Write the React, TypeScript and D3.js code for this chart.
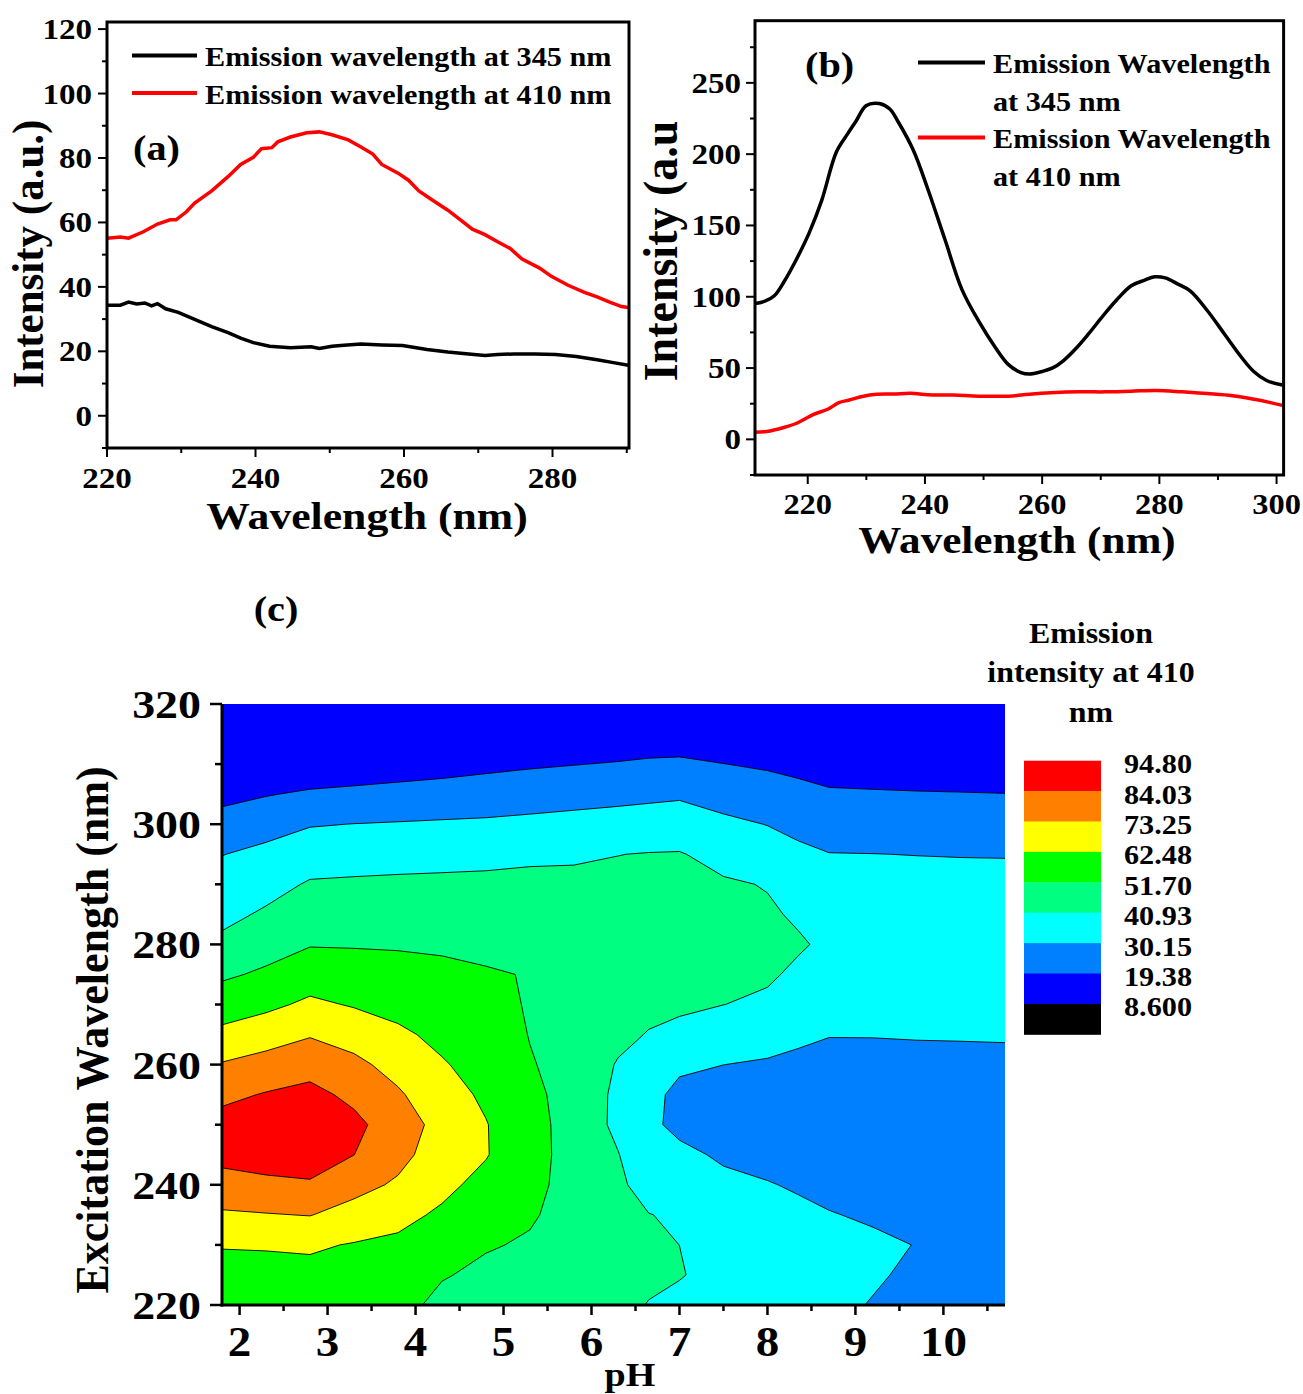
import React from 'react';
import * as d3 from 'd3';

const FONT = "'Liberation Serif','Times New Roman',Times,serif";
const SX = 1.12;

// ---------- Panel (a) data: [wavelength nm, intensity a.u.] ----------
const aEm345: [number, number][] = [
  [220, 34.3], [221.8, 34.3], [222.9, 35.3], [224, 34.7], [225.1, 35], [226, 34.1], [226.8, 34.8],
  [227.9, 33.2], [229.6, 32.1], [231.8, 29.9], [234.1, 27.7], [236.3, 25.8], [238, 24.1], [239.7, 22.7],
  [241.9, 21.6], [244.7, 21.1], [247.5, 21.4], [248.6, 20.9], [250.3, 21.6], [251.9, 21.9], [254.2, 22.3],
  [257, 22], [259.8, 21.8], [263.1, 20.6], [265.9, 19.8], [268.7, 19.2], [270.9, 18.7], [272.6, 19],
  [274.8, 19.2], [277.6, 19.2], [280.4, 19], [283.2, 18.4], [286, 17.4], [288.2, 16.5], [290.2, 15.7],
];
const aEm410: [number, number][] = [
  [220, 55.1], [221.8, 55.5], [222.9, 55.1], [224.9, 57.1], [226.8, 59.5], [228.5, 60.8], [229.3, 60.8],
  [230.7, 63.3], [231.8, 66], [234.1, 69.8], [236.3, 74.2], [238, 78], [239.7, 80.2], [240.8, 82.9],
  [242.2, 83.2], [243, 85], [244.7, 86.5], [246.9, 87.8], [248.6, 88.1], [250.3, 87.2], [252.5, 85.6],
  [254.2, 83.4], [255.8, 81.2], [257, 78], [259.2, 75.3], [260.6, 73.1], [262, 69.8], [263.7, 67.1],
  [265.9, 63.8], [267.6, 60.8], [269.2, 57.9], [270.9, 56.2], [272.6, 54], [274.3, 51.9], [275.9, 48.6],
  [278.2, 45.9], [279.9, 43.2], [282.1, 40.5], [284.3, 38.3], [286, 36.9], [287.7, 35.3], [289.3, 33.9],
  [290.2, 33.6],
];
const aXMajor = [220, 240, 260, 280];
const aXMinor = [230, 250, 270, 290];
const aYMajor = [0, 20, 40, 60, 80, 100, 120];
const aYMinor = [-10, 10, 30, 50, 70, 90, 110];

// ---------- Panel (b) data ----------
const bEm345: [number, number][] = [
  [211, 95.2], [212.7, 96.9], [214.3, 100.7], [215.9, 110.2], [218.1, 126.5], [220.3, 145.3], [222.4, 167.8],
  [224.9, 201.7], [226.8, 214.2], [228.2, 222.9], [230, 234.2], [232.2, 235.5], [234, 231.7], [235.4, 222.9],
  [238, 202.9], [240.5, 175.4], [243.4, 140.3], [246.3, 105.2], [249.2, 82.7], [252.1, 63.9], [254.2, 52.6],
  [256.4, 46.8], [257.8, 45.8], [260, 47.6], [261.8, 50.1], [263.6, 55.1], [265.8, 63.9], [267.9, 73.9],
  [270.1, 85.2], [272.7, 97.7], [275.2, 107.7], [277.4, 111.5], [279.2, 114], [281, 113.2], [283.1, 109],
  [285.3, 104], [288.2, 90.2], [291.1, 73.9], [294, 57.6], [296.1, 47.6], [298.3, 41.3], [301, 38.1],
];
const bEm410: [number, number][] = [
  [211, 5], [213, 5.5], [215.9, 8.3], [218.1, 11.3], [221, 17.5], [223.5, 21.3], [225.3, 25.8], [227.1, 27.6],
  [229.3, 30.1], [231.8, 31.6], [234.7, 31.8], [237.6, 32.3], [240.5, 31.3], [244.8, 31.1], [249.2, 30.3],
  [254.2, 30.3], [257.8, 31.6], [261.5, 32.6], [266.5, 33.3], [270.8, 33.3], [275.2, 33.8], [279.5, 34.3],
  [283.9, 33.3], [288.2, 32.1], [292.5, 30.6], [296.9, 27.6], [301, 23.8],
];
const bXMajor = [220, 240, 260, 280, 300];
const bXMinor = [230, 250, 270, 290];
const bYMajor = [0, 50, 100, 150, 200, 250];
const bYMinor = [-25, 25, 75, 125, 175, 225, 275];

// ---------- Panel (c) data: emission intensity at 410 nm ----------
const phColumns = [1.8, 2.3, 2.8, 3.3, 3.8, 4.3, 4.8, 5.3, 5.8, 6.3, 6.65, 7.0, 7.5, 8.0, 8.35, 8.7, 9.2, 9.7, 10.2, 10.7];
const excitationRows = [320, 315, 310, 305, 300, 295, 290, 285, 280, 275, 270, 265, 260, 255, 250, 245, 240, 235, 230, 225, 220];
const intensityGrid: number[][] = [
  [11, 11.5, 12, 12, 12, 12, 13, 13.5, 14, 11.5, 12, 12, 12, 12.5, 13, 13.5, 13.5, 13.5, 13.5, 13.5],
  [12.5, 13, 11.5, 12.5, 13, 13.5, 14, 15, 16, 12.6, 13.6, 13.6, 13, 13.5, 14.5, 14.5, 14.5, 14.5, 14.5, 14.5],
  [14.5, 15, 12.1, 13.3, 14.4, 15.5, 17.0, 18.2, 19.1, 20.0, 20.8, 21.2, 19.5, 18.1, 16.8, 15.5, 15.1, 14.9, 15, 15],
  [16.6, 18.8, 20.8, 21.7, 22.7, 23.6, 24.5, 25.5, 26.4, 27.3, 28.1, 28.8, 26.0, 24.0, 22.2, 20.5, 20.2, 19.9, 19.7, 19.5],
  [23.2, 26.4, 29.5, 30.3, 30.8, 31.3, 31.7, 32.5, 33.4, 34.3, 34.8, 35.3, 32.3, 29.9, 27.6, 25.5, 25.2, 24.9, 24.7, 24.5],
  [29.9, 32.6, 36.0, 36.6, 37.3, 37.8, 38.4, 39.2, 40.1, 40.8, 41.3, 41.5, 37.9, 34.9, 32.2, 30.4, 30.25, 30.0, 29.8, 29.7],
  [34.1, 37.4, 41.9, 42.4, 42.7, 42.9, 43.0, 43.4, 42.4, 43.0, 43.0, 43.0, 42.0, 40.5, 36.0, 33.5, 33.0, 33.0, 33.0, 33.0],
  [38.2, 42.3, 46.5, 46.7, 46.8, 46.6, 46.3, 46.7, 44.0, 44.5, 44.0, 43.8, 43.0, 42.0, 39.9, 37.0, 35.0, 35.0, 35.0, 35.0],
  [43.2, 47.6, 51.15, 51.0, 50.8, 50.4, 49.6, 50.0, 45.7, 45.2, 44.5, 44.0, 43.0, 42.5, 41.8, 39.5, 36.0, 36.0, 36.0, 36.0],
  [50.1, 53.3, 57.5, 56.3, 55.1, 53.8, 52.5, 51.3, 47.3, 46.0, 44.5, 43.5, 42.5, 42.0, 39.5, 37.0, 35.5, 35.5, 35.5, 35.5],
  [57.2, 60.2, 64.4, 61.7, 59.5, 57.0, 54.6, 51.0, 49.0, 46.5, 43.5, 42.2, 41.0, 39.5, 36.5, 35.0, 34.0, 34.0, 34.0, 34.0],
  [65.0, 68.5, 72.4, 68.9, 64.2, 60.2, 56.7, 51.4, 48.8, 43.5, 40.4, 39.0, 35.5, 34.5, 32.0, 30.5, 30.6, 31.0, 31.2, 31.5],
  [74.0, 77.2, 80.6, 75.8, 69.5, 63.3, 58.8, 52.3, 48.5, 40.2, 37.0, 33.0, 30.2, 29.0, 28.0, 27.0, 26.5, 26.5, 26.5, 26.5],
  [81.6, 84.7, 86.6, 81.9, 74.6, 66.4, 60.9, 54.0, 48.0, 38.8, 35.0, 26.0, 25.0, 24.5, 24.0, 24.5, 24.0, 24.0, 24.0, 24.0],
  [87.8, 89.2, 91.1, 86.3, 79.1, 69.4, 62.9, 55.5, 47.5, 38.8, 34.1, 25.5, 23.5, 23.0, 22.5, 23.5, 23.0, 23.0, 23.0, 23.0],
  [86.9, 88.0, 88.2, 84.1, 76.6, 67.6, 63.0, 56.0, 47.3, 41.3, 34.5, 34.5, 27.5, 25.0, 23.0, 24.0, 23.5, 23.0, 22.5, 22.5],
  [80.3, 82.1, 83.1, 76.9, 71.7, 64.6, 59.9, 55.3, 47.0, 43.0, 36.5, 37.5, 34.5, 31.0, 28.5, 26.5, 25.0, 24.0, 22.5, 22.0],
  [71.8, 72.7, 73.6, 69.1, 64.8, 61.2, 56.3, 53.0, 47.2, 44.0, 41.2, 39.5, 36.0, 34.0, 33.5, 30.8, 28.5, 26.5, 23.0, 22.0],
  [63.0, 63.2, 63.7, 61.9, 60.9, 56.9, 52.7, 50.4, 47.0, 44.5, 43.0, 40.9, 36.5, 35.0, 34.0, 33.0, 32.5, 29.8, 24.0, 22.5],
  [59.3, 59.6, 59.9, 59.4, 58.4, 52.6, 49.1, 48.0, 46.0, 44.5, 43.0, 41.8, 36.0, 35.0, 34.0, 33.5, 31.5, 28.0, 23.5, 22.5],
  [56, 56.5, 57, 57, 56, 48.3, 45.5, 46.0, 45.0, 44.0, 40.5, 37.0, 35.0, 34.5, 33.5, 33.0, 29.5, 26.0, 23.0, 22.5],
];
const contourThresholds = [8.6, 19.38, 30.15, 40.93, 51.70, 62.48, 73.25, 84.03];
const contourColors = ['#0000FF', '#0080FF', '#00FFFF', '#00FF80', '#00FF00', '#FFFF00', '#FF8000', '#FF0000'];
const legendLabels = ['94.80', '84.03', '73.25', '62.48', '51.70', '40.93', '30.15', '19.38', '8.600'];
const legendColors = ['#FF0000', '#FF8000', '#FFFF00', '#00FF00', '#00FF80', '#00FFFF', '#0080FF', '#0000FF', '#000000'];
const cXMajor = [2, 3, 4, 5, 6, 7, 8, 9, 10];
const cXMinor = [2.5, 3.5, 4.5, 5.5, 6.5, 7.5, 8.5, 9.5, 10.5];
const cYMajor = [220, 240, 260, 280, 300, 320];
const cYMinor = [230, 250, 270, 290, 310];

function T({ x, y, size, anchor = 'start', rotate = 0, children, sx = SX }: any) {
  const tr = `translate(${x},${y}) scale(${sx},1)` + (rotate ? ` rotate(${rotate})` : '');
  return (
    <text transform={tr} fontSize={size} textAnchor={anchor} fontFamily={FONT} fontWeight="bold" fill="#000">
      {children}
    </text>
  );
}

function gridToValue(arr: number[], c: number) {
  const f = c - 0.5;
  const n = arr.length;
  if (f <= 0) return arr[0] + f * (arr[1] - arr[0]);
  if (f >= n - 1) return arr[n - 1] + (f - (n - 1)) * (arr[n - 1] - arr[n - 2]);
  const i = Math.floor(f);
  const t = f - i;
  return arr[i] + t * (arr[i + 1] - arr[i]);
}

export default function App() {
  // Panel (a) scales
  const ax = d3.scaleLinear().domain([220, 290.3]).range([107, 629]);
  const ay = d3.scaleLinear().domain([-10, 122.2]).range([448, 22]);
  // Panel (b) scales
  const bx = d3.scaleLinear().domain([211, 301.2]).range([755, 1283.6]);
  const by = d3.scaleLinear().domain([-25, 293.6]).range([475, 20.7]);
  // Panel (c) scales
  const cx = d3.scaleLinear().domain([1.8, 10.7]).range([222, 1005]);
  const cy = d3.scaleLinear().domain([220, 320]).range([1305, 704]);

  const lineA = d3.line<[number, number]>().x((d) => ax(d[0])).y((d) => ay(d[1])).curve(d3.curveLinear);
  const lineB = d3.line<[number, number]>().x((d) => bx(d[0])).y((d) => by(d[1])).curve(d3.curveCatmullRom.alpha(0.5));

  const nx = phColumns.length;
  const ny = excitationRows.length;
  const flat = intensityGrid.flat();
  const contours = d3.contours().size([nx, ny]).thresholds(contourThresholds)(flat);
  const proj = d3.geoTransform({
    point: function (this: any, x: number, y: number) {
      this.stream.point(cx(gridToValue(phColumns, x)), cy(gridToValue(excitationRows, y)));
    },
  });
  const geo = d3.geoPath(proj);

  const frame = (x0: number, y0: number, x1: number, y1: number) => (
    <rect x={x0} y={y0} width={x1 - x0} height={y1 - y0} fill="none" stroke="#000" strokeWidth={3} />
  );

  return (
    <svg width={1303} height={1394} style={{ position: 'absolute', left: 0, top: 0, background: '#fff' }}>
      <defs>
        <clipPath id="clipA"><rect x={107} y={22} width={522} height={426} /></clipPath>
        <clipPath id="clipB"><rect x={755} y={20.7} width={528.6} height={454.3} /></clipPath>
        <clipPath id="clipC"><rect x={222} y={704} width={783} height={601} /></clipPath>
      </defs>
      <rect x={0} y={0} width={1303} height={1394} fill="#fff" />

      {/* ---------------- Panel (a) ---------------- */}
      <g clipPath="url(#clipA)">
        <path d={lineA(aEm345) || ''} fill="none" stroke="#000" strokeWidth={3.5} />
        <path d={lineA(aEm410) || ''} fill="none" stroke="#FF0000" strokeWidth={3.5} />
      </g>
      {frame(107, 22, 629, 448)}
      {aYMajor.map((v) => (
        <g key={'aym' + v}>
          <line x1={107} x2={98} y1={ay(v)} y2={ay(v)} stroke="#000" strokeWidth={2} />
          <T x={92} y={ay(v) + 10} size={29.5} anchor="end">{v}</T>
        </g>
      ))}
      {aYMinor.map((v) => (
        <line key={'ayn' + v} x1={107} x2={102} y1={ay(v)} y2={ay(v)} stroke="#000" strokeWidth={2} />
      ))}
      {aXMajor.map((v) => (
        <g key={'axm' + v}>
          <line x1={ax(v)} x2={ax(v)} y1={448} y2={457} stroke="#000" strokeWidth={2} />
          <T x={ax(v)} y={488} size={29.5} anchor="middle">{v}</T>
        </g>
      ))}
      {aXMinor.map((v) => (
        <line key={'axn' + v} x1={ax(v)} x2={ax(v)} y1={448} y2={453} stroke="#000" strokeWidth={2} />
      ))}
      <T x={367} y={529} size={39} anchor="middle">Wavelength (nm)</T>
      <T x={43} y={254} size={43} anchor="middle" rotate={-90} sx={1.05}>Intensity (a.u.)</T>
      <line x1={132} x2={197} y1={55.4} y2={55.4} stroke="#000" strokeWidth={4} />
      <T x={205} y={66} size={27}>Emission wavelength at 345 nm</T>
      <line x1={132} x2={197} y1={93} y2={93} stroke="#FF0000" strokeWidth={4} />
      <T x={205} y={103.5} size={27}>Emission wavelength at 410 nm</T>
      <T x={133} y={159.6} size={36}>(a)</T>

      {/* ---------------- Panel (b) ---------------- */}
      <g clipPath="url(#clipB)">
        <path d={lineB(bEm345) || ''} fill="none" stroke="#000" strokeWidth={3.5} />
        <path d={lineB(bEm410) || ''} fill="none" stroke="#FF0000" strokeWidth={3.5} />
      </g>
      {frame(755, 20.7, 1283.6, 475)}
      {bYMajor.map((v) => (
        <g key={'bym' + v}>
          <line x1={755} x2={746} y1={by(v)} y2={by(v)} stroke="#000" strokeWidth={2} />
          <T x={741} y={by(v) + 10} size={29.5} anchor="end">{v}</T>
        </g>
      ))}
      {bYMinor.map((v) => (
        <line key={'byn' + v} x1={755} x2={750} y1={by(v)} y2={by(v)} stroke="#000" strokeWidth={2} />
      ))}
      {bXMajor.map((v) => (
        <g key={'bxm' + v}>
          <line x1={bx(v)} x2={bx(v)} y1={475} y2={484} stroke="#000" strokeWidth={2} />
          <T x={bx(v)} y={514} size={29} anchor="middle">{v}</T>
        </g>
      ))}
      {bXMinor.map((v) => (
        <line key={'bxn' + v} x1={bx(v)} x2={bx(v)} y1={475} y2={480} stroke="#000" strokeWidth={2} />
      ))}
      <T x={1017} y={553} size={38.5} anchor="middle">Wavelength (nm)</T>
      <T x={677} y={251} size={46} anchor="middle" rotate={-90} sx={1.05}>Intensity (a.u</T>
      <T x={805} y={76.8} size={36}>(b)</T>
      <line x1={918} x2={985} y1={62.5} y2={62.5} stroke="#000" strokeWidth={4} />
      <T x={993} y={73.2} size={27}>Emission Wavelength</T>
      <T x={993} y={110.7} size={27}>at 345 nm</T>
      <line x1={918} x2={985} y1={137.5} y2={137.5} stroke="#FF0000" strokeWidth={4} />
      <T x={993} y={148.2} size={27}>Emission Wavelength</T>
      <T x={993} y={185.7} size={27}>at 410 nm</T>

      {/* ---------------- Panel (c) ---------------- */}
      <T x={276} y={621} size={36} anchor="middle">(c)</T>
      <g clipPath="url(#clipC)">
        {contours.map((c, i) => (
          <path key={'ct' + i} d={geo(c as any) || ''} fill={contourColors[i]} stroke="#000" strokeWidth={0.9} strokeLinejoin="round" />
        ))}
      </g>
      <line x1={222} x2={222} y1={704} y2={1306.5} stroke="#000" strokeWidth={3} />
      <line x1={220.5} x2={1005} y1={1305} y2={1305} stroke="#000" strokeWidth={3} />
      {cYMajor.map((v) => (
        <g key={'cym' + v}>
          <line x1={222} x2={210} y1={cy(v)} y2={cy(v)} stroke="#000" strokeWidth={2.5} />
          <T x={201} y={cy(v) + 14} size={41} anchor="end">{v}</T>
        </g>
      ))}
      {cYMinor.map((v) => (
        <line key={'cyn' + v} x1={222} x2={215} y1={cy(v)} y2={cy(v)} stroke="#000" strokeWidth={2.5} />
      ))}
      {cXMajor.map((v) => (
        <g key={'cxm' + v}>
          <line x1={cx(v)} x2={cx(v)} y1={1305} y2={1315} stroke="#000" strokeWidth={2.5} />
          <T x={cx(v)} y={1356} size={42} anchor="middle">{v}</T>
        </g>
      ))}
      {cXMinor.map((v) => (
        <line key={'cxn' + v} x1={cx(v)} x2={cx(v)} y1={1305} y2={1311} stroke="#000" strokeWidth={2.5} />
      ))}
      <T x={630} y={1386} size={34} anchor="middle">pH</T>
      <T x={108} y={1030} size={44} anchor="middle" rotate={-90} sx={1.05}>Excitation Wavelength (nm)</T>

      {/* legend */}
      <T x={1091} y={643} size={28.5} anchor="middle">Emission</T>
      <T x={1091} y={682} size={28.5} anchor="middle">intensity at 410</T>
      <T x={1091} y={721.7} size={28.5} anchor="middle">nm</T>
      {legendColors.map((col, i) => (
        <g key={'lg' + i}>
          <rect x={1024} y={760.7 + i * 30.4} width={77} height={30.9} fill={col} />
          <T x={1124} y={760.7 + i * 30.4 + 12.5} size={27}>{legendLabels[i]}</T>
        </g>
      ))}
    </svg>
  );
}
